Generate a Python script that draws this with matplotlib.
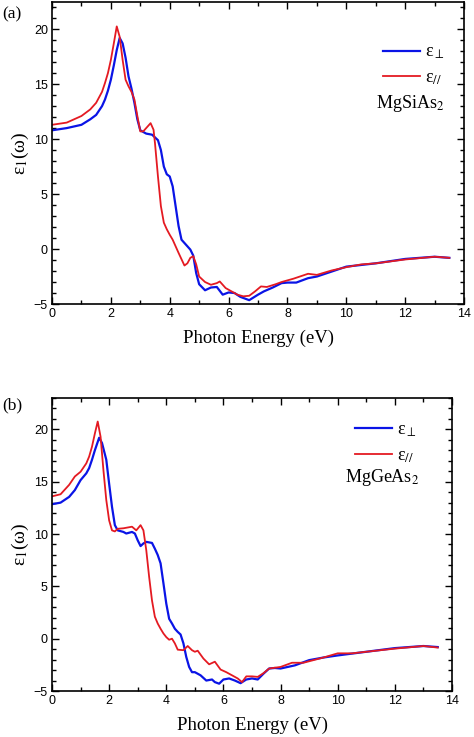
import numpy as np
import matplotlib
matplotlib.use('Agg')
import matplotlib.pyplot as plt
from matplotlib.ticker import MultipleLocator

plt.rcParams['mathtext.fontset'] = 'stix'

# panel (a) MgSiAs2, perpendicular component
a_perp_x = [0, 0.5, 1, 1.3, 1.5, 1.7, 1.8, 1.9, 2.0, 2.1, 2.2, 2.3, 2.4, 2.5, 2.6, 2.7, 2.8, 2.9,
            3.0, 3.2, 3.4, 3.6, 3.7, 3.8, 3.9, 4.0, 4.1, 4.2, 4.3, 4.4, 4.6, 4.7, 4.8, 4.9, 5.0,
            5.2, 5.4, 5.6, 5.8, 6.0, 6.2, 6.4, 6.7, 7.0, 7.2, 7.5, 7.8, 8.0, 8.3, 8.7, 9.0, 9.5,
            10, 11, 12, 13, 13.5]
a_perp_y = [10.8, 11.0, 11.3, 11.8, 12.2, 13.0, 13.6, 14.4, 15.4, 16.7, 18.1, 19.2, 18.7, 17.4,
            15.7, 14.6, 13.3, 11.8, 10.8, 10.5, 10.4, 9.9, 9.0, 7.5, 6.8, 6.6, 5.7, 3.9, 2.1,
            0.85, 0.25, -0.05, -0.6, -2.2, -3.2, -3.75, -3.5, -3.45, -4.15, -3.95, -4.0, -4.35,
            -4.65, -4.15, -3.85, -3.5, -3.1, -3.05, -3.05, -2.65, -2.5, -2.05, -1.6, -1.3, -0.9,
            -0.7, -0.8]

# panel (a) MgSiAs2, parallel component
a_par_x = [0, 0.5, 1, 1.3, 1.5, 1.7, 1.8, 1.9, 2.0, 2.1, 2.2, 2.3, 2.4, 2.5, 2.6, 2.7, 2.8, 2.9,
           3.0, 3.1, 3.2, 3.35, 3.45, 3.5, 3.6, 3.7, 3.8, 3.9, 4.0, 4.1, 4.2, 4.3, 4.5, 4.6, 4.7,
           4.8, 4.9, 5.0, 5.2, 5.4, 5.6, 5.7, 5.9, 6.1, 6.3, 6.5, 6.7, 6.9, 7.1, 7.3, 7.6, 7.8,
           8.2, 8.7, 9.0, 9.5, 10, 10.5, 11, 12, 13, 13.5]
a_par_y = [11.3, 11.5, 12.1, 12.7, 13.3, 14.3, 15.1, 16.0, 17.2, 18.7, 20.25, 19.3, 17.2, 15.4,
           14.8, 14.3, 13.6, 12.1, 10.7, 10.7, 11.0, 11.45, 10.85, 9.6, 6.6, 3.9, 2.4, 1.8, 1.3,
           0.85, 0.25, -0.35, -1.5, -1.3, -0.8, -0.65, -1.4, -2.5, -3.0, -3.25, -3.1, -2.95,
           -3.55, -3.85, -4.15, -4.3, -4.25, -3.85, -3.4, -3.45, -3.2, -3.0, -2.7, -2.25, -2.35,
           -1.95, -1.65, -1.4, -1.3, -0.95, -0.7, -0.8]

# panel (b) MgGeAs2, perpendicular component
b_perp_x = [0, 0.3, 0.6, 0.8, 1.0, 1.2, 1.3, 1.4, 1.5, 1.6, 1.65, 1.75, 1.9, 2.0, 2.1, 2.2, 2.3,
            2.5, 2.6, 2.8, 2.9, 3.0, 3.1, 3.2, 3.3, 3.5, 3.6, 3.7, 3.8, 3.9, 4.0, 4.1, 4.2, 4.3,
            4.4, 4.5, 4.6, 4.7, 4.8, 4.9, 5.0, 5.2, 5.4, 5.6, 5.7, 5.85, 6.0, 6.2, 6.4, 6.6,
            6.8, 7.0, 7.2, 7.4, 7.6, 7.8, 8.0, 8.5, 9, 9.5, 10, 11, 12, 13, 13.5]
b_perp_y = [12.85, 13.0, 13.55, 14.2, 15.15, 15.8, 16.3, 17.1, 18.0, 18.8, 19.2, 18.7, 17.1, 14.8,
            12.6, 10.85, 10.35, 10.2, 10.05, 10.2, 10.05, 9.4, 8.85, 9.1, 9.25, 9.15, 8.6, 8.0,
            7.2, 5.3, 3.35, 1.9, 1.45, 0.95, 0.65, 0.4, -0.45, -1.75, -2.7, -3.2, -3.2, -3.5,
            -4.0, -3.9, -4.15, -4.3, -3.9, -3.8, -4.0, -4.25, -3.9, -3.8, -3.9, -3.35, -2.85,
            -2.8, -2.85, -2.55, -2.05, -1.8, -1.6, -1.25, -0.9, -0.7, -0.8]

# panel (b) MgGeAs2, parallel component
b_par_x = [0, 0.3, 0.6, 0.8, 1.0, 1.2, 1.3, 1.4, 1.5, 1.6, 1.7, 1.8, 1.9, 2.0, 2.1, 2.2, 2.3,
           2.5, 2.8, 2.95, 3.1, 3.2, 3.3, 3.4, 3.5, 3.6, 3.7, 3.8, 3.9, 4.0, 4.1, 4.2, 4.3, 4.4,
           4.6, 4.75, 4.9, 5.0, 5.1, 5.3, 5.5, 5.7, 5.9, 6.1, 6.3, 6.5, 6.65, 6.8, 7.0, 7.2, 7.4,
           7.6, 8.0, 8.4, 8.8, 9.5, 10, 10.5, 11, 12, 13, 13.5]
b_par_y = [13.6, 13.8, 14.7, 15.5, 15.95, 16.75, 17.4, 18.35, 19.6, 20.75, 19.3, 16.1, 13.25,
           11.3, 10.35, 10.25, 10.5, 10.55, 10.7, 10.35, 10.85, 10.35, 8.45, 5.9, 3.65, 2.1,
           1.45, 0.95, 0.5, 0.15, -0.1, 0.0, -0.45, -1.05, -1.1, -0.7, -1.1, -1.25, -1.15, -1.9,
           -2.45, -2.2, -2.95, -3.2, -3.5, -3.8, -4.15, -3.6, -3.6, -3.65, -3.3, -2.85, -2.7,
           -2.3, -2.3, -1.8, -1.4, -1.4, -1.25, -0.95, -0.7, -0.85]

x_ticks = [0, 2, 4, 6, 8, 10, 12, 14]
y_ticks = [-5, 0, 5, 10, 15, 20]

blue = '#0a14e6'
red = '#e41a22'
serif = 'Liberation Serif'
sans = 'Liberation Sans'

fig = plt.figure(figsize=(4.74, 7.37), dpi=100)
ax_a = fig.add_axes([0.1097, 0.5875, 0.8693, 0.4095])
ax_b = fig.add_axes([0.1097, 0.0624, 0.8439, 0.3976])

# ax, data, compound, tag, y max, legend anchor, compound position, tag y
panels = [
    (ax_a, a_perp_x, a_perp_y, a_par_x, a_par_y, 'MgSiAs$_2$', '(a)', 22.45,
     (0.803, 0.791), (0.786, 0.666), 0.98),
    (ax_b, b_perp_x, b_perp_y, b_par_x, b_par_y, 'MgGeAs$_2$', '(b)', 23.0,
     (0.757, 0.846), (0.7325, 0.727), 0.4505),
]

for ax, px, py, qx, qy, compound, tag, ytop, leg_xy, comp_xy, tag_y in panels:
    ax.plot(px, py, color=blue, lw=1.6, label='ε$_{\\perp}$')
    ax.plot(qx, qy, color=red, lw=1.3, label='ε$_{//}$')
    ax.set_xlim(0, 14)
    ax.set_ylim(-5, ytop)
    ax.set_xticks(x_ticks)
    ax.set_yticks(y_ticks)
    ax.xaxis.set_minor_locator(MultipleLocator(1))
    ax.yaxis.set_minor_locator(MultipleLocator(1))
    ax.tick_params(which='both', direction='in', top=True, right=True, width=1.0)
    ax.tick_params(which='major', length=5, labelsize=9, pad=3)
    ax.tick_params(which='minor', length=3)
    for lbl in ax.get_xticklabels() + ax.get_yticklabels():
        lbl.set_family(sans)
    for sp in ax.spines.values():
        sp.set_linewidth(1.2)
    ax.set_xlabel('Photon Energy (eV)', family=serif, fontsize=13.5, labelpad=7)
    ax.set_ylabel('ε$_1$(ω)', family=serif, fontsize=14, labelpad=2)
    leg = ax.legend(loc='center left', frameon=False, handlelength=2.05,
                    bbox_to_anchor=leg_xy, labelspacing=0.45, handletextpad=0.3,
                    borderpad=0, borderaxespad=0, prop={'family': serif, 'size': 13})
    ax.text(comp_xy[0], comp_xy[1], compound, transform=ax.transAxes, ha='left',
            va='center', family=serif, fontsize=13)
    fig.text(0.005, tag_y, tag, family=serif, fontsize=12.5, ha='left', va='center')

fig.savefig('out.png', dpi=100)
